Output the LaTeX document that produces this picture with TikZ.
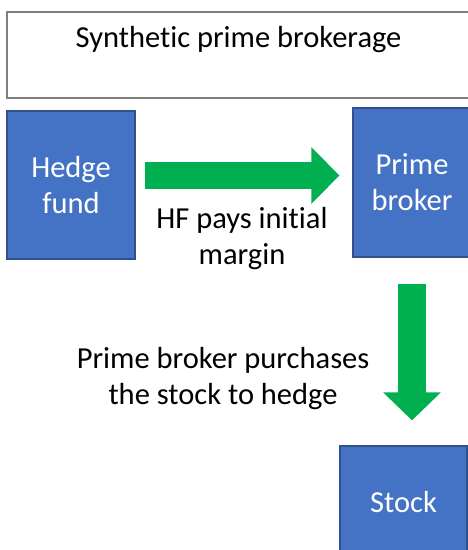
\documentclass[tikz,border=0pt]{standalone}
\usepackage{fontspec}
\setmainfont{Carlito}[Ligatures=NoCommon]
\usetikzlibrary{arrows.meta}
\definecolor{boxblue}{HTML}{4472C4}
\definecolor{boxedge}{HTML}{2F528F}
\definecolor{arrgreen}{HTML}{00B050}
\definecolor{titleedge}{HTML}{7F7F7F}
\tikzset{
  bluebox/.style={draw=boxedge, line width=1.2pt, fill=boxblue, text=white, align=center, inner sep=0pt},
  titlebox/.style={draw=titleedge, line width=1.2pt, fill=white, inner sep=0pt},
  caption/.style={text=black, align=center, inner sep=0pt},
  bigarrow/.style={draw=arrgreen, line width=27pt, -{Triangle[length=28pt,width=55pt,fill=arrgreen]}},
  txt/.style={font=\fontsize{30.5}{36}\selectfont}
}
\begin{document}
\begin{tikzpicture}[x=1pt,y=-1pt]
\useasboundingbox (0,0) rectangle (468,550);
\clip (0,0) rectangle (468,550);
\node[titlebox, minimum width=480pt, minimum height=86pt] (title) at (247,55) {};
\node[caption, txt, anchor=base] (titletext) at (238.5,47) {Synthetic prime brokerage};
\node[bluebox, txt, minimum width=128pt, minimum height=148pt] (hf) at (71,185) {Hedge\\fund};
\node[bluebox, txt, minimum width=118pt, minimum height=149pt] (pb) at (412,182.5) {Prime\\broker};
\node[bluebox, txt, minimum width=127pt, minimum height=112pt] (stock) at (403.5,502) {Stock};
\coordinate (a1s) at ([shift={(9,-9.5)}]hf.east);
\coordinate (a1e) at ([xshift=-13pt]pb.west |- a1s);
\coordinate (a2s) at ([yshift=-26pt]pb.south);
\coordinate (a2e) at ([yshift=25pt]pb.south |- stock.north);
\draw[bigarrow] (a1s) -- (a1e);
\draw[bigarrow, line width=28pt, -{Triangle[length=28pt,width=56pt,fill=arrgreen]}] (a2s) -- (a2e);
\node[caption, txt] (hflabel) at (242,239) {HF pays initial\\margin};
\node[caption, txt] (pblabel) at (223,379) {Prime broker purchases\\the stock to hedge};
\end{tikzpicture}
\end{document}
